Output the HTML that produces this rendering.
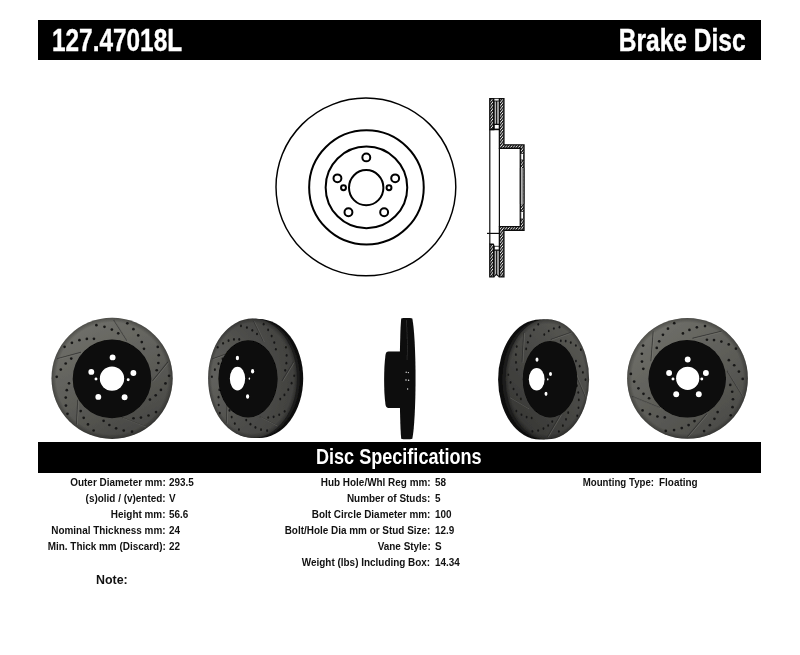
<!DOCTYPE html>
<html><head><meta charset="utf-8"><title>127.47018L Brake Disc</title>
<style>
html,body{margin:0;padding:0;background:#fff}
body{width:800px;height:655px;position:relative;overflow:hidden;font-family:"Liberation Sans",sans-serif;font-weight:bold;color:#111}
.bar{position:absolute;left:38.1px;width:723.4px;background:#000}
.h{position:absolute;color:#fff;white-space:nowrap;line-height:1}
.l,.v{position:absolute;font-size:11px;line-height:16px;height:16px;white-space:nowrap}
.l{transform:scaleX(.903);transform-origin:100% 50%}
.v{transform:scaleX(.903);transform-origin:0 50%}
</style></head><body>
<div class="bar" style="top:20.2px;height:39.4px"></div>
<div class="bar" style="top:442.4px;height:30.5px"></div>
<svg width="800" height="655" viewBox="0 0 800 655" style="position:absolute;left:0;top:0"><defs><radialGradient id="rim"><stop offset="0.92" stop-color="#000" stop-opacity="0"/><stop offset="1" stop-color="#000" stop-opacity="0.3"/></radialGradient><filter id="soft" x="0" y="0" width="100%" height="100%" filterUnits="userSpaceOnUse"><feGaussianBlur stdDeviation="0.45"/></filter></defs><g fill="none" stroke="#000" stroke-width="2.0"><ellipse cx="365.9" cy="186.95" rx="89.9" ry="88.85" stroke-width="1.45"/><ellipse cx="366.45" cy="187.4" rx="57.3" ry="57.1"/><ellipse cx="366.45" cy="187.4" rx="40.8" ry="40.8"/><ellipse cx="366.2" cy="187.7" rx="17.2" ry="17.6"/><circle cx="366.3" cy="157.4" r="3.95"/><circle cx="395.16" cy="178.37" r="3.95"/><circle cx="384.14" cy="212.3" r="3.95"/><circle cx="348.46" cy="212.3" r="3.95"/><circle cx="337.44" cy="178.37" r="3.95"/><circle cx="343.5" cy="187.7" r="2.45"/><circle cx="389.0" cy="187.7" r="2.45"/></g>
<defs>
<pattern id="hat" width="2.1" height="2.1" patternUnits="userSpaceOnUse" patternTransform="rotate(-52)">
<rect width="2.1" height="2.1" fill="#f4f4f4"/><rect width="2.1" height="1.3" fill="#1c1c1c"/>
</pattern>
</defs>
<g stroke="#0c0c0c" stroke-width="1.35" fill="url(#hat)" stroke-linejoin="miter">
<!-- top: left plate -->
<path d="M489.8 98.6 L493.7 98.6 L493.7 129.6 L489.8 129.6 Z"/>
<!-- right plate + hat -->
<path d="M499.4 98.6 L503.9 98.6 L503.9 144.8 L524 144.8 L524 230.2 L503.9 230.2 L503.9 276.9 L499.4 276.9 L499.4 226.6 L520.3 226.6 L520.3 148.2 L499.4 148.2 Z"/>
<!-- bottom: left plate -->
<path d="M489.8 244.2 L493.2 244.2 L493.7 245.2 L493.7 276.9 L489.8 276.9 Z"/>
</g>
<!-- vane gap strips -->
<g stroke="none">
<rect x="496.7" y="101" width="2.2" height="23" fill="#9a9a9a"/>
<rect x="496.7" y="250.2" width="2.2" height="24.5" fill="#9a9a9a"/>
</g>
<g stroke="#0c0c0c" stroke-width="1.2" fill="none">
<path d="M489.8 129.6 L489.8 244.2"/>
<path d="M499.4 148.2 L499.4 226.6"/>
<path d="M496.3 101 L496.3 124.3 M496.3 250.2 L496.3 274.6"/>
<path d="M494.4 101 L494.4 129 M494.4 246 L494.4 274.6" stroke-width="0.7"/>
<path d="M493.7 276.9 L496.3 274.4 L499.4 276.9"/>
<path d="M493.7 98.6 L499.4 98.6 M493.7 101 L499.4 101" stroke-width="0.9"/>
<path d="M487 233.4 L499.4 233.4"/>
<path d="M493.7 124.3 L499.4 124.3 M493.7 250.2 L499.4 250.2"/>
<path d="M493.7 246.3 L499.4 246.3" stroke-width="0.8"/>
<path d="M489.8 129.4 L499.4 129.4" stroke-width="1.6"/>
</g>
<g stroke="#111" stroke-width="0.8" fill="#fff">
<rect x="520.8" y="153.5" width="2.7" height="6.5" rx="0.8"/>
<rect x="520.8" y="211.5" width="2.7" height="7.5" rx="0.8"/>
<rect x="520.8" y="168" width="2.7" height="36" stroke="none"/>
<path d="M520.4 168 L520.4 204 M522.1 168 L522.1 204 M523.9 168 L523.9 204" fill="none"/>
</g>
<g filter="url(#soft)"><defs><linearGradient id="ga" x1="0.2" y1="0" x2="0.7" y2="1"><stop offset="0" stop-color="#72726c"/><stop offset="0.5" stop-color="#5f5f5a"/><stop offset="1" stop-color="#454542"/></linearGradient></defs><ellipse cx="112.1" cy="378.3" rx="60.6" ry="60.6" fill="url(#ga)"/><ellipse cx="112.1" cy="378.3" rx="60.6" ry="60.6" fill="url(#rim)"/><path d="M113.78 320.03 L127.13 340.71" fill="none" stroke="#2c2c2a" stroke-width="1.1" opacity="0.8"/><path d="M114.48 320.53 L127.83 341.21" fill="none" stroke="#908f89" stroke-width="0.7" opacity="0.5"/><path d="M168.04 361.89 L152.49 380.98" fill="none" stroke="#2c2c2a" stroke-width="1.1" opacity="0.8"/><path d="M168.74 362.39 L153.19 381.48" fill="none" stroke="#908f89" stroke-width="0.7" opacity="0.5"/><path d="M144.99 426.43 L122.03 417.54" fill="none" stroke="#2c2c2a" stroke-width="1.1" opacity="0.8"/><path d="M145.69 426.93 L122.73 418.04" fill="none" stroke="#908f89" stroke-width="0.7" opacity="0.5"/><path d="M76.49 424.46 L77.85 399.87" fill="none" stroke="#2c2c2a" stroke-width="1.1" opacity="0.8"/><path d="M77.19 424.96 L78.55 400.37" fill="none" stroke="#908f89" stroke-width="0.7" opacity="0.5"/><path d="M57.2 358.7 L81 352.39" fill="none" stroke="#2c2c2a" stroke-width="1.1" opacity="0.8"/><path d="M57.9 359.2 L81.7 352.89" fill="none" stroke="#908f89" stroke-width="0.7" opacity="0.5"/><g fill="#191918"><ellipse cx="96.37" cy="325.18" rx="1.35" ry="1.35"/><ellipse cx="104.5" cy="326.81" rx="1.35" ry="1.35"/><ellipse cx="111.85" cy="329.6" rx="1.35" ry="1.35"/><ellipse cx="118.25" cy="333.37" rx="1.35" ry="1.35"/><ellipse cx="127.33" cy="323.37" rx="1.35" ry="1.35"/><ellipse cx="133.43" cy="329.13" rx="1.35" ry="1.35"/><ellipse cx="138.25" cy="335.45" rx="1.35" ry="1.35"/><ellipse cx="141.77" cy="342.11" rx="1.35" ry="1.35"/><ellipse cx="144" cy="348.87" rx="1.35" ry="1.35"/><ellipse cx="157.76" cy="346.92" rx="1.35" ry="1.35"/><ellipse cx="158.72" cy="355.16" rx="1.35" ry="1.35"/><ellipse cx="158.34" cy="363.01" rx="1.35" ry="1.35"/><ellipse cx="156.73" cy="370.27" rx="1.35" ry="1.35"/><ellipse cx="169.05" cy="375.81" rx="1.35" ry="1.35"/><ellipse cx="165.46" cy="383.39" rx="1.35" ry="1.35"/><ellipse cx="160.93" cy="389.93" rx="1.35" ry="1.35"/><ellipse cx="155.69" cy="395.34" rx="1.35" ry="1.35"/><ellipse cx="149.95" cy="399.54" rx="1.35" ry="1.35"/><ellipse cx="156.05" cy="412.03" rx="1.35" ry="1.35"/><ellipse cx="148.52" cy="415.49" rx="1.35" ry="1.35"/><ellipse cx="140.93" cy="417.55" rx="1.35" ry="1.35"/><ellipse cx="133.53" cy="418.27" rx="1.35" ry="1.35"/><ellipse cx="132.06" cy="431.69" rx="1.35" ry="1.35"/><ellipse cx="123.75" cy="430.62" rx="1.35" ry="1.35"/><ellipse cx="116.13" cy="428.34" rx="1.35" ry="1.35"/><ellipse cx="109.37" cy="425.02" rx="1.35" ry="1.35"/><ellipse cx="103.6" cy="420.86" rx="1.35" ry="1.35"/><ellipse cx="93.61" cy="430.52" rx="1.35" ry="1.35"/><ellipse cx="87.99" cy="424.43" rx="1.35" ry="1.35"/><ellipse cx="83.68" cy="417.85" rx="1.35" ry="1.35"/><ellipse cx="80.71" cy="411.03" rx="1.35" ry="1.35"/><ellipse cx="67.49" cy="413.78" rx="1.35" ry="1.35"/><ellipse cx="65.94" cy="405.54" rx="1.35" ry="1.35"/><ellipse cx="65.75" cy="397.59" rx="1.35" ry="1.35"/><ellipse cx="66.82" cy="390.14" rx="1.35" ry="1.35"/><ellipse cx="69" cy="383.36" rx="1.35" ry="1.35"/><ellipse cx="56.72" cy="376.85" rx="1.35" ry="1.35"/><ellipse cx="60.78" cy="369.62" rx="1.35" ry="1.35"/><ellipse cx="65.71" cy="363.49" rx="1.35" ry="1.35"/><ellipse cx="71.27" cy="358.56" rx="1.35" ry="1.35"/><ellipse cx="64.57" cy="346.84" rx="1.35" ry="1.35"/><ellipse cx="71.92" cy="342.82" rx="1.35" ry="1.35"/><ellipse cx="79.43" cy="340.18" rx="1.35" ry="1.35"/><ellipse cx="86.85" cy="338.9" rx="1.35" ry="1.35"/><ellipse cx="93.96" cy="338.87" rx="1.35" ry="1.35"/></g><ellipse cx="112" cy="378.9" rx="39.3" ry="39.3" fill="#070707"/><ellipse cx="112" cy="378.6" rx="12.2" ry="12.2" fill="#fff"/><ellipse cx="112.6" cy="357.4" rx="2.95" ry="2.95" fill="#fff"/><ellipse cx="91.3" cy="371.9" rx="2.95" ry="2.95" fill="#fff"/><ellipse cx="133.4" cy="373" rx="2.95" ry="2.95" fill="#fff"/><ellipse cx="98.3" cy="396.9" rx="2.95" ry="2.95" fill="#fff"/><ellipse cx="124.6" cy="397.3" rx="2.95" ry="2.95" fill="#fff"/><ellipse cx="96" cy="378.9" rx="1.48" ry="1.48" fill="#fff"/><ellipse cx="128.2" cy="379.8" rx="1.48" ry="1.48" fill="#fff"/><defs><radialGradient id="gb" cx="0.08" cy="0.5" r="1.0"><stop offset="0" stop-color="#61615d"/><stop offset="0.5" stop-color="#4d4d4a"/><stop offset="1" stop-color="#3e3e3c"/></radialGradient></defs><ellipse cx="258.8" cy="378.5" rx="44.4" ry="59.6" fill="#0d0d0d"/><ellipse cx="255.34" cy="378.4" rx="44.4" ry="59.6" fill="#1b1b1a"/><ellipse cx="252.5" cy="378.2" rx="44.4" ry="59.6" fill="url(#gb)"/><ellipse cx="252.5" cy="378.2" rx="44.4" ry="59.6" fill="url(#rim)"/><path d="M253.73 320.89 L263.51 341.23" fill="none" stroke="#2c2c2a" stroke-width="1.1" opacity="0.8"/><path d="M254.43 321.39 L264.21 341.73" fill="none" stroke="#908f89" stroke-width="0.7" opacity="0.5"/><path d="M293.49 362.06 L282.1 380.84" fill="none" stroke="#2c2c2a" stroke-width="1.1" opacity="0.8"/><path d="M294.19 362.56 L282.8 381.34" fill="none" stroke="#908f89" stroke-width="0.7" opacity="0.5"/><path d="M276.6 425.54 L259.78 416.8" fill="none" stroke="#2c2c2a" stroke-width="1.1" opacity="0.8"/><path d="M277.3 426.04 L260.48 417.3" fill="none" stroke="#908f89" stroke-width="0.7" opacity="0.5"/><path d="M226.41 423.6 L227.4 399.42" fill="none" stroke="#2c2c2a" stroke-width="1.1" opacity="0.8"/><path d="M227.11 424.1 L228.1 399.92" fill="none" stroke="#908f89" stroke-width="0.7" opacity="0.5"/><path d="M212.27 358.92 L229.71 352.72" fill="none" stroke="#2c2c2a" stroke-width="1.1" opacity="0.8"/><path d="M212.97 359.42 L230.41 353.22" fill="none" stroke="#908f89" stroke-width="0.7" opacity="0.5"/><g fill="#191918"><ellipse cx="240.97" cy="325.96" rx="1.01" ry="1.35"/><ellipse cx="246.93" cy="327.56" rx="1.01" ry="1.35"/><ellipse cx="252.31" cy="330.3" rx="1.01" ry="1.35"/><ellipse cx="257.01" cy="334.01" rx="1.01" ry="1.35"/><ellipse cx="263.66" cy="324.18" rx="1.01" ry="1.35"/><ellipse cx="268.13" cy="329.84" rx="1.01" ry="1.35"/><ellipse cx="271.66" cy="336.06" rx="1.01" ry="1.35"/><ellipse cx="274.24" cy="342.61" rx="1.01" ry="1.35"/><ellipse cx="275.87" cy="349.25" rx="1.01" ry="1.35"/><ellipse cx="285.95" cy="347.34" rx="1.01" ry="1.35"/><ellipse cx="286.66" cy="355.44" rx="1.01" ry="1.35"/><ellipse cx="286.38" cy="363.16" rx="1.01" ry="1.35"/><ellipse cx="285.2" cy="370.3" rx="1.01" ry="1.35"/><ellipse cx="294.22" cy="375.75" rx="1.01" ry="1.35"/><ellipse cx="291.6" cy="383.21" rx="1.01" ry="1.35"/><ellipse cx="288.28" cy="389.64" rx="1.01" ry="1.35"/><ellipse cx="284.44" cy="394.96" rx="1.01" ry="1.35"/><ellipse cx="280.23" cy="399.09" rx="1.01" ry="1.35"/><ellipse cx="284.7" cy="411.37" rx="1.01" ry="1.35"/><ellipse cx="279.18" cy="414.77" rx="1.01" ry="1.35"/><ellipse cx="273.62" cy="416.8" rx="1.01" ry="1.35"/><ellipse cx="268.2" cy="417.51" rx="1.01" ry="1.35"/><ellipse cx="267.13" cy="430.71" rx="1.01" ry="1.35"/><ellipse cx="261.03" cy="429.66" rx="1.01" ry="1.35"/><ellipse cx="255.45" cy="427.41" rx="1.01" ry="1.35"/><ellipse cx="250.5" cy="424.15" rx="1.01" ry="1.35"/><ellipse cx="246.27" cy="420.06" rx="1.01" ry="1.35"/><ellipse cx="238.95" cy="429.56" rx="1.01" ry="1.35"/><ellipse cx="234.83" cy="423.57" rx="1.01" ry="1.35"/><ellipse cx="231.68" cy="417.1" rx="1.01" ry="1.35"/><ellipse cx="229.5" cy="410.39" rx="1.01" ry="1.35"/><ellipse cx="219.81" cy="413.1" rx="1.01" ry="1.35"/><ellipse cx="218.68" cy="404.99" rx="1.01" ry="1.35"/><ellipse cx="218.54" cy="397.17" rx="1.01" ry="1.35"/><ellipse cx="219.32" cy="389.84" rx="1.01" ry="1.35"/><ellipse cx="220.92" cy="383.18" rx="1.01" ry="1.35"/><ellipse cx="211.92" cy="376.77" rx="1.01" ry="1.35"/><ellipse cx="214.9" cy="369.66" rx="1.01" ry="1.35"/><ellipse cx="218.51" cy="363.64" rx="1.01" ry="1.35"/><ellipse cx="222.58" cy="358.79" rx="1.01" ry="1.35"/><ellipse cx="217.67" cy="347.26" rx="1.01" ry="1.35"/><ellipse cx="223.06" cy="343.3" rx="1.01" ry="1.35"/><ellipse cx="228.56" cy="340.71" rx="1.01" ry="1.35"/><ellipse cx="234" cy="339.45" rx="1.01" ry="1.35"/><ellipse cx="239.21" cy="339.42" rx="1.01" ry="1.35"/></g><ellipse cx="248" cy="378.8" rx="29.61" ry="38.6" fill="#070707"/><ellipse cx="237.5" cy="378.6" rx="7.7" ry="11.9" fill="#fff"/><ellipse cx="237.4" cy="358" rx="1.62" ry="2.25" fill="#fff"/><ellipse cx="252.6" cy="371.3" rx="1.62" ry="2.25" fill="#fff"/><ellipse cx="247.6" cy="396.4" rx="1.62" ry="2.25" fill="#fff"/><ellipse cx="249.4" cy="378.7" rx="0.81" ry="1.12" fill="#fff"/><g fill="#0a0a0a">
<path d="M401.2 318.4 C403 317.8 410.5 317.8 412.3 318.4 C416.6 340 416.6 417 412.3 438.8 C410.5 439.5 403 439.5 401.2 438.8 C399.2 417 399.2 340 401.2 318.4 Z"/>
<path d="M401 351.6 L388.6 351.6 Q385.9 351.6 385.5 355 C383.7 368 383.7 391 385.5 404.6 Q385.9 408 388.6 408 L401 408 Z"/>
</g>
<path d="M406.4 320 C407.6 340 407.6 352 407 360" stroke="#2a2a2a" stroke-width="1" fill="none"/>
<g fill="#ddd"><circle cx="406.2" cy="372.3" r="0.7"/><circle cx="408.4" cy="372.6" r="0.7"/><circle cx="406" cy="380" r="0.8"/><circle cx="408.6" cy="380.3" r="0.8"/><circle cx="407.6" cy="389" r="0.7"/></g>
<defs><linearGradient id="gd" x1="0.85" y1="0.05" x2="0.15" y2="0.95"><stop offset="0" stop-color="#585854"/><stop offset="0.5" stop-color="#474744"/><stop offset="1" stop-color="#353533"/></linearGradient></defs><ellipse cx="539.8" cy="379.5" rx="41.7" ry="60" fill="#0d0d0d"/><ellipse cx="543.98" cy="379.4" rx="41.7" ry="60" fill="#1b1b1a"/><ellipse cx="547.4" cy="379.2" rx="41.7" ry="60" fill="url(#gd)"/><ellipse cx="547.4" cy="379.2" rx="41.7" ry="60" fill="url(#rim)"/><path d="M570.92 332.44 L550.89 339.44" fill="none" stroke="#2c2c2a" stroke-width="1.1" opacity="0.8"/><path d="M571.62 332.94 L551.59 339.94" fill="none" stroke="#908f89" stroke-width="0.7" opacity="0.5"/><path d="M523.76 332.56 L522.2 362.13" fill="none" stroke="#2c2c2a" stroke-width="1.1" opacity="0.8"/><path d="M524.46 333.06 L522.9 362.63" fill="none" stroke="#908f89" stroke-width="0.7" opacity="0.5"/><path d="M509.27 397.13 L528.33 408.42" fill="none" stroke="#2c2c2a" stroke-width="1.1" opacity="0.8"/><path d="M509.97 397.63 L529.03 408.92" fill="none" stroke="#908f89" stroke-width="0.7" opacity="0.5"/><path d="M547.47 436.92 L560.82 414.32" fill="none" stroke="#2c2c2a" stroke-width="1.1" opacity="0.8"/><path d="M548.17 437.42 L561.52 414.82" fill="none" stroke="#908f89" stroke-width="0.7" opacity="0.5"/><path d="M585.57 396.94 L574.76 371.69" fill="none" stroke="#2c2c2a" stroke-width="1.1" opacity="0.8"/><path d="M586.27 397.44 L575.46 372.19" fill="none" stroke="#908f89" stroke-width="0.7" opacity="0.5"/><g fill="#191918"><ellipse cx="559.5" cy="327.18" rx="0.94" ry="1.35"/><ellipse cx="553.87" cy="328.51" rx="0.94" ry="1.35"/><ellipse cx="548.74" cy="331.02" rx="0.94" ry="1.35"/><ellipse cx="544.25" cy="334.53" rx="0.94" ry="1.35"/><ellipse cx="538.24" cy="324.32" rx="0.94" ry="1.35"/><ellipse cx="533.91" cy="329.81" rx="0.94" ry="1.35"/><ellipse cx="530.44" cy="335.9" rx="0.94" ry="1.35"/><ellipse cx="527.86" cy="342.36" rx="0.94" ry="1.35"/><ellipse cx="526.17" cy="348.97" rx="0.94" ry="1.35"/><ellipse cx="516.76" cy="346.57" rx="0.94" ry="1.35"/><ellipse cx="515.89" cy="354.69" rx="0.94" ry="1.35"/><ellipse cx="515.97" cy="362.47" rx="0.94" ry="1.35"/><ellipse cx="516.9" cy="369.71" rx="0.94" ry="1.35"/><ellipse cx="508.3" cy="374.77" rx="0.94" ry="1.35"/><ellipse cx="510.58" cy="382.39" rx="0.94" ry="1.35"/><ellipse cx="513.54" cy="389.02" rx="0.94" ry="1.35"/><ellipse cx="517.02" cy="394.55" rx="0.94" ry="1.35"/><ellipse cx="520.86" cy="398.91" rx="0.94" ry="1.35"/><ellipse cx="516.36" cy="411.05" rx="0.94" ry="1.35"/><ellipse cx="521.46" cy="414.74" rx="0.94" ry="1.35"/><ellipse cx="526.63" cy="417.04" rx="0.94" ry="1.35"/><ellipse cx="531.7" cy="418.01" rx="0.94" ry="1.35"/><ellipse cx="532.39" cy="431.34" rx="0.94" ry="1.35"/><ellipse cx="538.13" cy="430.57" rx="0.94" ry="1.35"/><ellipse cx="543.43" cy="428.57" rx="0.94" ry="1.35"/><ellipse cx="548.16" cy="425.52" rx="0.94" ry="1.35"/><ellipse cx="552.23" cy="421.61" rx="0.94" ry="1.35"/><ellipse cx="558.86" cy="431.51" rx="0.94" ry="1.35"/><ellipse cx="562.88" cy="425.68" rx="0.94" ry="1.35"/><ellipse cx="565.99" cy="419.32" rx="0.94" ry="1.35"/><ellipse cx="568.2" cy="412.67" rx="0.94" ry="1.35"/><ellipse cx="577.23" cy="415.85" rx="0.94" ry="1.35"/><ellipse cx="578.49" cy="407.75" rx="0.94" ry="1.35"/><ellipse cx="578.81" cy="399.89" rx="0.94" ry="1.35"/><ellipse cx="578.25" cy="392.48" rx="0.94" ry="1.35"/><ellipse cx="576.92" cy="385.7" rx="0.94" ry="1.35"/><ellipse cx="585.52" cy="379.68" rx="0.94" ry="1.35"/><ellipse cx="582.9" cy="372.38" rx="0.94" ry="1.35"/><ellipse cx="579.66" cy="366.15" rx="0.94" ry="1.35"/><ellipse cx="575.95" cy="361.08" rx="0.94" ry="1.35"/><ellipse cx="580.84" cy="349.71" rx="0.94" ry="1.35"/><ellipse cx="575.88" cy="345.48" rx="0.94" ry="1.35"/><ellipse cx="570.78" cy="342.61" rx="0.94" ry="1.35"/><ellipse cx="565.71" cy="341.08" rx="0.94" ry="1.35"/><ellipse cx="560.82" cy="340.81" rx="0.94" ry="1.35"/></g><ellipse cx="550" cy="379.3" rx="27.24" ry="38.2" fill="#070707"/><ellipse cx="536.7" cy="379.2" rx="7.91" ry="11.3" fill="#fff"/><ellipse cx="537" cy="359.7" rx="1.47" ry="2.1" fill="#fff"/><ellipse cx="550.5" cy="374" rx="1.47" ry="2.1" fill="#fff"/><ellipse cx="546" cy="393.8" rx="1.47" ry="2.1" fill="#fff"/><ellipse cx="547.8" cy="379.4" rx="0.73" ry="1.05" fill="#fff"/><defs><linearGradient id="ge" x1="0.15" y1="0" x2="0.85" y2="1"><stop offset="0" stop-color="#73736d"/><stop offset="0.5" stop-color="#5e5e59"/><stop offset="1" stop-color="#484845"/></linearGradient></defs><ellipse cx="687.5" cy="378.4" rx="60.4" ry="60.4" fill="url(#ge)"/><ellipse cx="687.5" cy="378.4" rx="60.4" ry="60.4" fill="url(#rim)"/><path d="M721.57 331.33 L692.56 338.37" fill="none" stroke="#2c2c2a" stroke-width="1.1" opacity="0.8"/><path d="M722.27 331.83 L693.26 338.87" fill="none" stroke="#908f89" stroke-width="0.7" opacity="0.5"/><path d="M653.26 331.45 L650.99 361.22" fill="none" stroke="#2c2c2a" stroke-width="1.1" opacity="0.8"/><path d="M653.96 331.95 L651.69 361.72" fill="none" stroke="#908f89" stroke-width="0.7" opacity="0.5"/><path d="M632.27 396.45 L659.88 407.81" fill="none" stroke="#2c2c2a" stroke-width="1.1" opacity="0.8"/><path d="M632.97 396.95 L660.58 408.31" fill="none" stroke="#908f89" stroke-width="0.7" opacity="0.5"/><path d="M687.6 436.5 L706.94 413.76" fill="none" stroke="#2c2c2a" stroke-width="1.1" opacity="0.8"/><path d="M688.3 437 L707.64 414.26" fill="none" stroke="#908f89" stroke-width="0.7" opacity="0.5"/><path d="M742.79 396.26 L727.13 370.84" fill="none" stroke="#2c2c2a" stroke-width="1.1" opacity="0.8"/><path d="M743.49 396.76 L727.83 371.34" fill="none" stroke="#908f89" stroke-width="0.7" opacity="0.5"/><g fill="#191918"><ellipse cx="705.02" cy="326.04" rx="1.35" ry="1.35"/><ellipse cx="696.87" cy="327.37" rx="1.35" ry="1.35"/><ellipse cx="689.45" cy="329.9" rx="1.35" ry="1.35"/><ellipse cx="682.93" cy="333.43" rx="1.35" ry="1.35"/><ellipse cx="674.24" cy="323.16" rx="1.35" ry="1.35"/><ellipse cx="667.96" cy="328.68" rx="1.35" ry="1.35"/><ellipse cx="662.94" cy="334.81" rx="1.35" ry="1.35"/><ellipse cx="659.2" cy="341.32" rx="1.35" ry="1.35"/><ellipse cx="656.75" cy="347.97" rx="1.35" ry="1.35"/><ellipse cx="643.11" cy="345.56" rx="1.35" ry="1.35"/><ellipse cx="641.87" cy="353.73" rx="1.35" ry="1.35"/><ellipse cx="641.98" cy="361.56" rx="1.35" ry="1.35"/><ellipse cx="643.32" cy="368.85" rx="1.35" ry="1.35"/><ellipse cx="630.86" cy="373.94" rx="1.35" ry="1.35"/><ellipse cx="634.17" cy="381.61" rx="1.35" ry="1.35"/><ellipse cx="638.45" cy="388.29" rx="1.35" ry="1.35"/><ellipse cx="643.49" cy="393.86" rx="1.35" ry="1.35"/><ellipse cx="649.06" cy="398.24" rx="1.35" ry="1.35"/><ellipse cx="642.55" cy="410.46" rx="1.35" ry="1.35"/><ellipse cx="649.93" cy="414.18" rx="1.35" ry="1.35"/><ellipse cx="657.42" cy="416.49" rx="1.35" ry="1.35"/><ellipse cx="664.76" cy="417.47" rx="1.35" ry="1.35"/><ellipse cx="665.76" cy="430.89" rx="1.35" ry="1.35"/><ellipse cx="674.08" cy="430.11" rx="1.35" ry="1.35"/><ellipse cx="681.75" cy="428.1" rx="1.35" ry="1.35"/><ellipse cx="688.6" cy="425.03" rx="1.35" ry="1.35"/><ellipse cx="694.49" cy="421.09" rx="1.35" ry="1.35"/><ellipse cx="704.1" cy="431.06" rx="1.35" ry="1.35"/><ellipse cx="709.92" cy="425.19" rx="1.35" ry="1.35"/><ellipse cx="714.43" cy="418.78" rx="1.35" ry="1.35"/><ellipse cx="717.63" cy="412.1" rx="1.35" ry="1.35"/><ellipse cx="730.7" cy="415.3" rx="1.35" ry="1.35"/><ellipse cx="732.53" cy="407.14" rx="1.35" ry="1.35"/><ellipse cx="732.99" cy="399.23" rx="1.35" ry="1.35"/><ellipse cx="732.19" cy="391.77" rx="1.35" ry="1.35"/><ellipse cx="730.26" cy="384.94" rx="1.35" ry="1.35"/><ellipse cx="742.72" cy="378.88" rx="1.35" ry="1.35"/><ellipse cx="738.92" cy="371.54" rx="1.35" ry="1.35"/><ellipse cx="734.23" cy="365.27" rx="1.35" ry="1.35"/><ellipse cx="728.86" cy="360.16" rx="1.35" ry="1.35"/><ellipse cx="735.94" cy="348.72" rx="1.35" ry="1.35"/><ellipse cx="728.75" cy="344.45" rx="1.35" ry="1.35"/><ellipse cx="721.37" cy="341.57" rx="1.35" ry="1.35"/><ellipse cx="714.02" cy="340.03" rx="1.35" ry="1.35"/><ellipse cx="706.94" cy="339.76" rx="1.35" ry="1.35"/></g><ellipse cx="687.2" cy="378.8" rx="38.8" ry="38.8" fill="#070707"/><ellipse cx="687.7" cy="378.3" rx="11.6" ry="11.6" fill="#fff"/><ellipse cx="687.7" cy="359.5" rx="2.95" ry="2.95" fill="#fff"/><ellipse cx="669.1" cy="373" rx="2.95" ry="2.95" fill="#fff"/><ellipse cx="705.9" cy="373" rx="2.95" ry="2.95" fill="#fff"/><ellipse cx="676.2" cy="394.3" rx="2.95" ry="2.95" fill="#fff"/><ellipse cx="698.8" cy="394.3" rx="2.95" ry="2.95" fill="#fff"/><ellipse cx="673" cy="378.9" rx="1.48" ry="1.48" fill="#fff"/><ellipse cx="701.8" cy="378.9" rx="1.48" ry="1.48" fill="#fff"/></g></svg>
<div class="h" id="pn" style="left:52.2px;top:24.9px;font-size:30.5px;-webkit-text-stroke:.4px #fff;transform:scaleX(.799);transform-origin:0 50%">127.47018L</div>
<div class="h" id="bd" style="right:54.39999999999998px;top:24.9px;font-size:30.5px;-webkit-text-stroke:.4px #fff;transform:scaleX(.805);transform-origin:100% 50%">Brake Disc</div>
<div class="h" id="ds" style="left:316px;top:445.7px;font-size:22px;transform:scaleX(.821);transform-origin:0 50%">Disc Specifications</div>
<div class="l" style="right:634.2px;top:473.6px">Outer Diameter mm:</div><div class="v" style="left:169px;top:473.6px">293.5</div><div class="l" style="right:634.2px;top:489.6px">(s)olid / (v)ented:</div><div class="v" style="left:169px;top:489.6px">V</div><div class="l" style="right:634.2px;top:505.6px">Height mm:</div><div class="v" style="left:169px;top:505.6px">56.6</div><div class="l" style="right:634.2px;top:521.6px">Nominal Thickness mm:</div><div class="v" style="left:169px;top:521.6px">24</div><div class="l" style="right:634.2px;top:537.6px">Min. Thick mm (Discard):</div><div class="v" style="left:169px;top:537.6px">22</div><div class="l" style="right:369.4px;top:473.6px">Hub Hole/Whl Reg mm:</div><div class="v" style="left:435px;top:473.6px">58</div><div class="l" style="right:369.4px;top:489.6px">Number of Studs:</div><div class="v" style="left:435px;top:489.6px">5</div><div class="l" style="right:369.4px;top:505.6px">Bolt Circle Diameter mm:</div><div class="v" style="left:435px;top:505.6px">100</div><div class="l" style="right:369.4px;top:521.6px">Bolt/Hole Dia mm or Stud Size:</div><div class="v" style="left:435px;top:521.6px">12.9</div><div class="l" style="right:369.4px;top:537.6px">Vane Style:</div><div class="v" style="left:435px;top:537.6px">S</div><div class="l" style="right:369.4px;top:553.6px">Weight (lbs) Including Box:</div><div class="v" style="left:435px;top:553.6px">14.34</div><div class="l" style="right:146.20000000000005px;top:473.6px;transform:scaleX(.88)">Mounting Type:</div><div class="v" style="left:659.1px;top:473.6px">Floating</div>
<div class="v" id="note" style="left:96px;top:571.8px;font-size:13.5px;transform:scaleX(.92)">Note:</div>
</body></html>
